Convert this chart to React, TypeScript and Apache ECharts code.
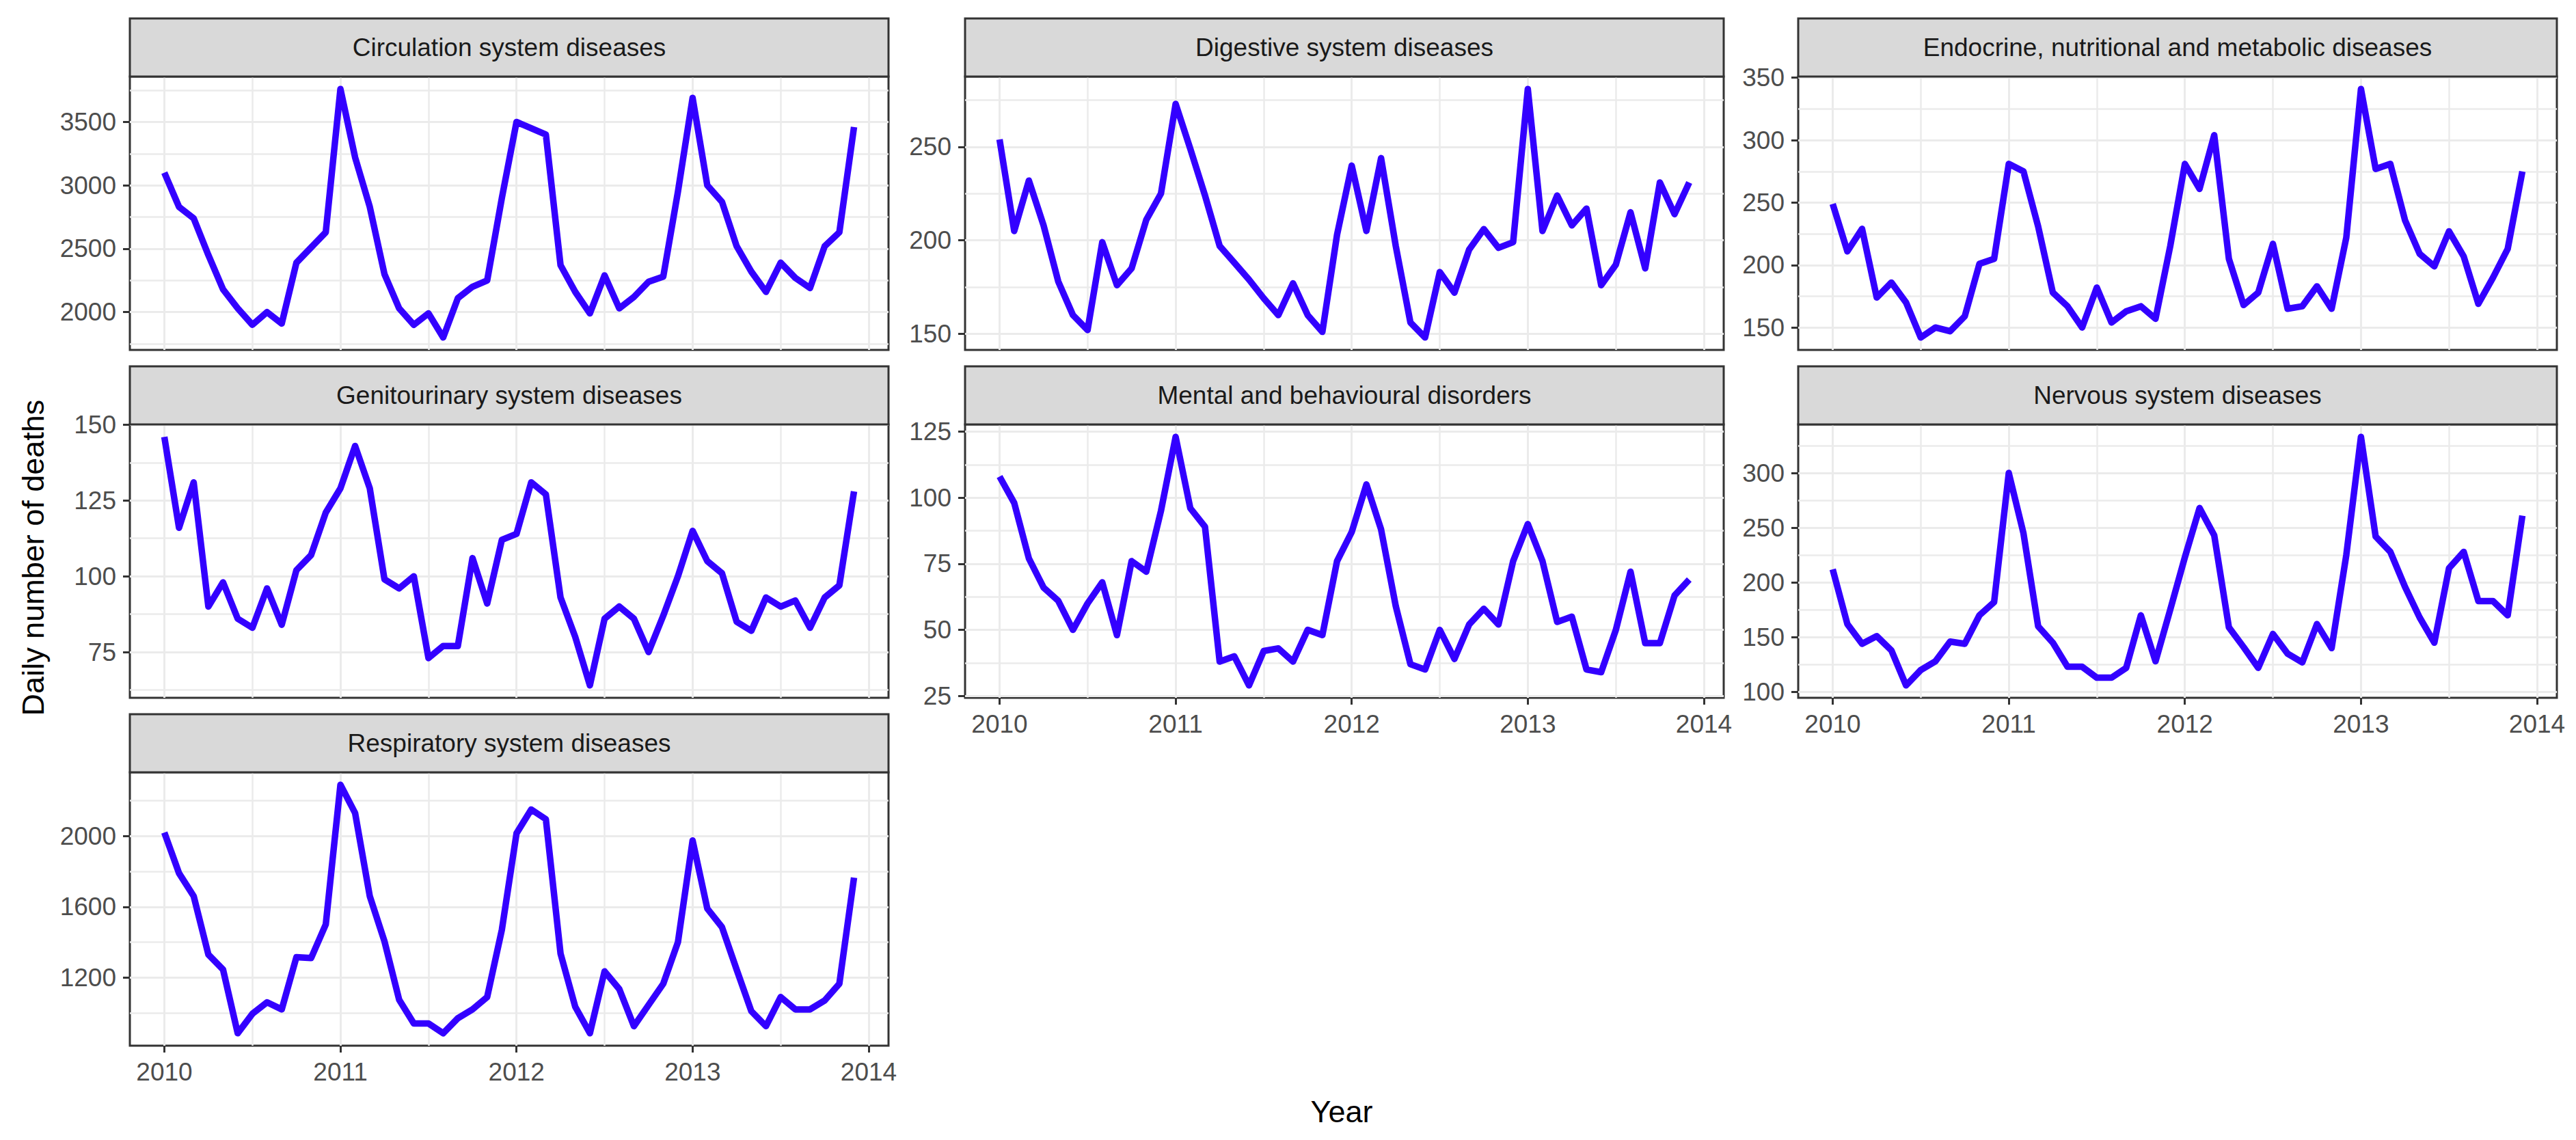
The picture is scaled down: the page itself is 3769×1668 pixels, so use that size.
import React, { useEffect, useRef } from "react";
import * as echarts from "echarts";

// ---------- data (monthly, Jan 2010 – Dec 2013) ----------
const START_YEAR = 2010;
const MONTHS = 48;

const circulation = [3100, 2830, 2740, 2450, 2180, 2030, 1900, 2000, 1910, 2390, 2510, 2630,
  3760, 3220, 2830, 2300, 2030, 1900, 1990, 1800, 2110, 2200, 2250, 2900,
  3500, 3450, 3400, 2370, 2160, 1990, 2290, 2030, 2120, 2240, 2280, 2950,
  3690, 3000, 2870, 2520, 2320, 2160, 2390, 2270, 2190, 2520, 2630, 3460];

const digestive = [254, 205, 232, 208, 178, 160, 152, 199, 176, 185, 211, 225,
  273, 249, 224, 197, 188, 179, 169, 160, 177, 160, 151, 203,
  240, 205, 244, 197, 156, 148, 183, 172, 195, 206, 196, 199,
  281, 205, 224, 208, 217, 176, 187, 215, 185, 231, 214, 231];

const endocrine = [249, 211, 229, 174, 186, 170, 142, 150, 147, 159, 201, 205,
  281, 275, 231, 178, 167, 150, 182, 154, 163, 167, 157, 215,
  281, 261, 304, 205, 168, 178, 217, 165, 167, 183, 165, 222,
  341, 277, 281, 236, 209, 199, 227, 207, 169, 190, 213, 275];

const genitourinary = [146, 116, 131, 90, 98, 86, 83, 96, 84, 102, 107, 121,
  129, 143, 129, 99, 96, 100, 73, 77, 77, 106, 91, 112,
  114, 131, 127, 93, 80, 64, 86, 90, 86, 75, 87, 100,
  115, 105, 101, 85, 82, 93, 90, 92, 83, 93, 97, 128];

const mental = [108, 98, 77, 66, 61, 50, 60, 68, 48, 76, 72, 95,
  123, 96, 89, 38, 40, 29, 42, 43, 38, 50, 48, 76,
  87, 105, 88, 59, 37, 35, 50, 39, 52, 58, 52, 76,
  90, 76, 53, 55, 35, 34, 50, 72, 45, 45, 63, 69];

const nervous = [212, 162, 144, 151, 138, 106, 120, 128, 146, 144, 170, 182,
  300, 245, 160, 145, 123, 123, 113, 113, 122, 170, 128, 175,
  223, 268, 243, 159, 141, 122, 153, 135, 127, 162, 140, 225,
  333, 242, 228, 196, 168, 145, 213, 228, 183, 183, 170, 261];

const respiratory = [2020, 1790, 1660, 1330, 1245, 885, 995, 1060, 1020, 1315, 1310, 1500,
  2290, 2130, 1660, 1405, 1075, 940, 940, 885, 970, 1020, 1090, 1470,
  2015, 2150, 2095, 1335, 1035, 885, 1235, 1135, 925, 1045, 1165, 1400,
  1975, 1590, 1485, 1245, 1010, 925, 1090, 1020, 1020, 1070, 1165, 1765];

const xTicks = [2010, 2011, 2012, 2013, 2014];
const circulationTicks = [2000, 2500, 3000, 3500];
const digestiveTicks = [150, 200, 250];
const endocrineTicks = [150, 200, 250, 300, 350];
const genitourinaryTicks = [75, 100, 125, 150];
const mentalTicks = [25, 50, 75, 100, 125];
const nervousTicks = [100, 150, 200, 250, 300];
const respiratoryTicks = [1200, 1600, 2000];

const titles = [
  "Circulation system diseases",
  "Digestive system diseases",
  "Endocrine, nutritional and metabolic diseases",
  "Genitourinary system diseases",
  "Mental and behavioural disorders",
  "Nervous system diseases",
  "Respiratory system diseases",
];

// ---------- layout ----------
const W = 3769;
const H = 1668;
const COL_LEFT = [190, 1412, 2631];
const PANEL_W = 1110;
const ROW_TOP = [112, 621, 1130];
const PANEL_H = 400;
const STRIP_H = 85;
const FONT = '"Liberation Sans", Arial, sans-serif';
const LINE_COLOR = "#3300FF";

const panels = [
  { title: titles[0], values: circulation, ticks: circulationTicks, col: 0, row: 0, showX: false },
  { title: titles[1], values: digestive, ticks: digestiveTicks, col: 1, row: 0, showX: false },
  { title: titles[2], values: endocrine, ticks: endocrineTicks, col: 2, row: 0, showX: false },
  { title: titles[3], values: genitourinary, ticks: genitourinaryTicks, col: 0, row: 1, showX: false },
  { title: titles[4], values: mental, ticks: mentalTicks, col: 1, row: 1, showX: true },
  { title: titles[5], values: nervous, ticks: nervousTicks, col: 2, row: 1, showX: true },
  { title: titles[6], values: respiratory, ticks: respiratoryTicks, col: 0, row: 2, showX: true },
];

function buildOption() {
  const xs = Array.from({ length: MONTHS }, (_, i) => START_YEAR + i / 12);
  const xSpan = xs[xs.length - 1] - xs[0];
  const xMin = xs[0] - 0.05 * xSpan;
  const xMax = xs[xs.length - 1] + 0.05 * xSpan;

  const grids: any[] = [];
  const xAxes: any[] = [];
  const yAxes: any[] = [];
  const series: any[] = [];
  const graphics: any[] = [];

  panels.forEach((p, i) => {
    const left = COL_LEFT[p.col];
    const top = ROW_TOP[p.row];
    const lo = Math.min(...p.values);
    const hi = Math.max(...p.values);
    const pad = 0.05 * (hi - lo);
    const step = p.ticks[1] - p.ticks[0];

    grids.push({
      left, top, width: PANEL_W, height: PANEL_H,
      show: true, backgroundColor: "#FFFFFF", borderColor: "#333333", borderWidth: 3,
      containLabel: false,
    });

    xAxes.push({
      type: "value", gridIndex: i, min: xMin, max: xMax,
      minInterval: 1, maxInterval: 1, splitNumber: 4,
      axisLine: { show: false },
      axisTick: { show: p.showX, length: 10, customValues: xTicks, lineStyle: { color: "#333333", width: 3 } },
      axisLabel: {
        show: p.showX, customValues: xTicks, formatter: (v: number) => String(Math.round(v)),
        fontSize: 37, color: "#4D4D4D", fontFamily: FONT, margin: 20,
      },
      splitLine: { show: true, lineStyle: { color: "#EBEBEB", width: 3 } },
      minorTick: { show: false, splitNumber: 2 },
      minorSplitLine: { show: true, lineStyle: { color: "#EBEBEB", width: 2.5 } },
    });

    yAxes.push({
      type: "value", gridIndex: i, min: lo - pad, max: hi + pad,
      minInterval: step, maxInterval: step,
      axisLine: { show: false },
      axisTick: { show: true, length: 10, customValues: p.ticks, lineStyle: { color: "#333333", width: 3 } },
      axisLabel: {
        show: true, customValues: p.ticks, formatter: (v: number) => String(Math.round(v)),
        fontSize: 37, color: "#4D4D4D", fontFamily: FONT, margin: 20,
      },
      splitLine: { show: true, lineStyle: { color: "#EBEBEB", width: 3 } },
      minorTick: { show: false, splitNumber: 2 },
      minorSplitLine: { show: true, lineStyle: { color: "#EBEBEB", width: 2.5 } },
    });

    series.push({
      type: "line", xAxisIndex: i, yAxisIndex: i,
      data: p.values.map((v, k) => [xs[k], v]),
      showSymbol: false, symbol: "none", silent: true,
      lineStyle: { color: LINE_COLOR, width: 9.5, join: "round" },
      itemStyle: { color: LINE_COLOR },
      z: 3,
    });

    graphics.push({
      type: "rect",
      shape: { x: left, y: top - STRIP_H, width: PANEL_W, height: STRIP_H },
      style: { fill: "#D9D9D9", stroke: "#333333", lineWidth: 3 },
      z: 10,
    });
    graphics.push({
      type: "text",
      x: left + PANEL_W / 2, y: top - STRIP_H / 2,
      style: {
        text: p.title, fill: "#1A1A1A", font: `37px ${FONT}`,
        align: "center", verticalAlign: "middle",
      },
      z: 11,
    });
  });

  graphics.push({
    type: "text", x: 1963, y: 1626,
    style: { text: "Year", fill: "#000000", font: `45px ${FONT}`, align: "center", verticalAlign: "middle" },
  });
  graphics.push({
    type: "text", x: 48, y: 816, rotation: Math.PI / 2,
    style: { text: "Daily number of deaths", fill: "#000000", font: `45px ${FONT}`, align: "center", verticalAlign: "middle" },
  });

  return {
    animation: false,
    backgroundColor: "#FFFFFF",
    grid: grids,
    xAxis: xAxes,
    yAxis: yAxes,
    series,
    graphic: { elements: graphics },
  };
}

export default function App() {
  const ref = useRef<HTMLDivElement>(null);
  useEffect(() => {
    if (!ref.current) return;
    const chart = echarts.init(ref.current, undefined, { renderer: "svg" });
    chart.setOption(buildOption() as any);
    return () => chart.dispose();
  }, []);
  return (
    <div
      ref={ref}
      style={{ position: "fixed", left: 0, top: 0, width: W, height: H, background: "#FFFFFF" }}
    />
  );
}
